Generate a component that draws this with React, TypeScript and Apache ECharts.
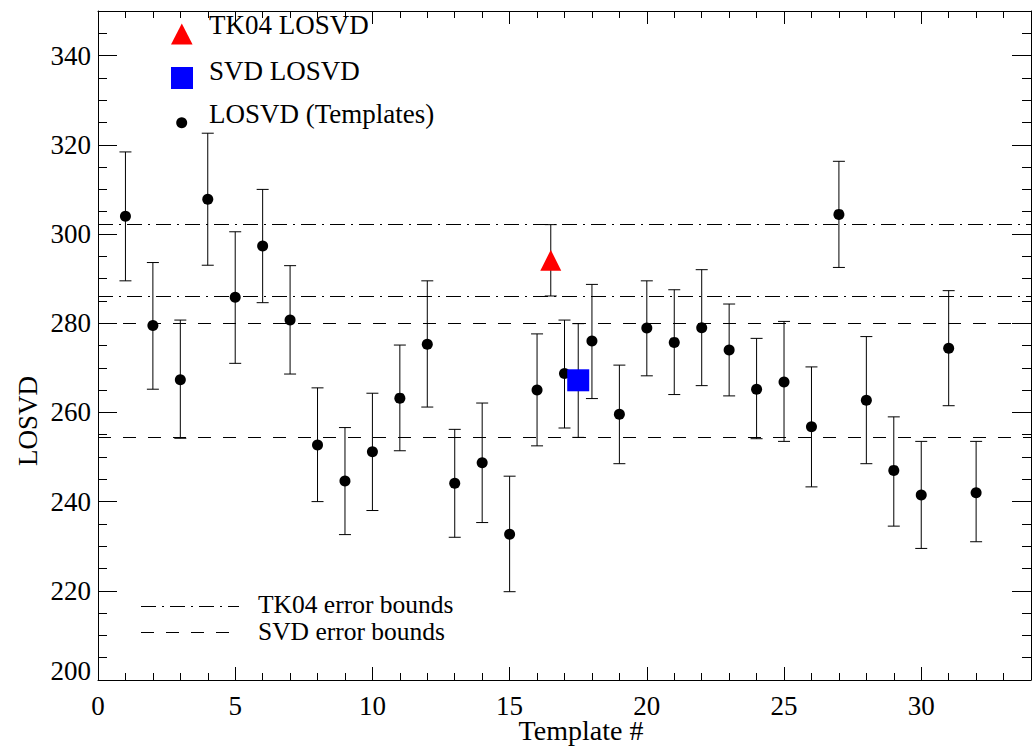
import React, { useEffect, useRef } from "react";
import * as echarts from "echarts";

// Template number for each LOSVD measurement
const templateIds = [
  1, 2, 3, 4, 5, 6, 7, 8, 9, 10, 11, 12, 13, 14, 15, 16,
  17, 18, 19, 20, 21, 22, 23, 24, 25, 26, 27, 28, 29, 30, 31, 32,
];
// LOSVD measured with each template (km/s)
const losvd = [
  304.0, 279.5, 267.3, 307.8, 285.8, 297.3, 280.7, 252.7, 244.6, 251.2, 263.2,
  275.3, 244.1, 248.7, 232.7, 265.0, 268.7, 276.0, 259.6, 278.9, 275.7, 279.0,
  274.0, 265.2, 266.8, 256.8, 304.4, 262.7, 247.0, 241.5, 274.4, 242.0,
];
// Lower and upper ends of the error bars
const losvdLow = [
  289.5, 265.2, 254.2, 293.0, 271.0, 284.6, 268.6, 240.0, 232.6, 238.0, 251.4,
  261.2, 232.0, 235.3, 219.8, 252.5, 256.5, 263.1, 248.5, 268.2, 264.0, 266.0,
  263.7, 254.1, 253.5, 243.3, 292.5, 248.5, 234.5, 229.5, 261.5, 231.0,
];
const losvdHigh = [
  318.4, 293.6, 280.7, 322.6, 300.5, 310.0, 292.9, 265.5, 256.6, 264.3, 275.1,
  289.5, 256.2, 262.1, 245.7, 277.6, 280.7, 288.7, 270.6, 289.5, 287.5, 292.0,
  284.3, 276.6, 280.4, 270.2, 316.3, 277.0, 259.0, 253.5, 287.3, 253.5,
];

// TK04 and SVD estimates: position, value, error range
const tk04X = 16.5;
const tk04Value = 294.1;
const tk04Bounds = [286.1, 302.1];
const svdX = 17.5;
const svdValue = 267.2;
const svdBounds = [254.4, 279.9];

// Axis ticks
const xMajorTicks = [0, 5, 10, 15, 20, 25, 30];
const yMajorTicks = [200, 220, 240, 260, 280, 300, 320, 340];

const FONT = '"Liberation Serif", "Times New Roman", serif';
const FS = 27;
const DASH_DOT = [15, 6, 2, 6];
const DASHED = [13, 12];

function errorBarItem(params: any, api: any) {
  const x = api.value(0);
  const lo = api.coord([x, api.value(1)]);
  const hi = api.coord([x, api.value(2)]);
  const cap = 6;
  const style = { stroke: "#000", lineWidth: 1 };
  return {
    type: "group",
    children: [
      { type: "line", shape: { x1: lo[0], y1: lo[1], x2: hi[0], y2: hi[1] }, style },
      { type: "line", shape: { x1: lo[0] - cap, y1: lo[1], x2: lo[0] + cap, y2: lo[1] }, style },
      { type: "line", shape: { x1: hi[0] - cap, y1: hi[1], x2: hi[0] + cap, y2: hi[1] }, style },
    ],
  };
}

function baseAxis(extra: any) {
  return {
    type: "value",
    gridIndex: 0,
    axisLine: { show: true, onZero: false, lineStyle: { color: "#000", width: 1 } },
    axisTick: { show: true, inside: true, lineStyle: { color: "#000", width: 1 } },
    axisLabel: { show: false },
    splitLine: { show: false },
    ...extra,
  };
}

function label(text: string, x: number, y: number, extra: any = {}) {
  return {
    type: "text",
    x,
    y,
    silent: true,
    style: {
      text,
      fill: "#000",
      fontSize: FS,
      fontFamily: FONT,
      textAlign: "left",
      textVerticalAlign: "middle",
      ...extra,
    },
  };
}

export default function App() {
  const ref = useRef<HTMLDivElement>(null);

  useEffect(() => {
    if (!ref.current) return;
    const chart = echarts.init(ref.current, null, { renderer: "svg" });

    const xLabel = {
      show: true,
      fontSize: FS,
      fontFamily: FONT,
      color: "#000",
      margin: 12,
      formatter: (v: number) => (xMajorTicks.includes(v) ? String(v) : ""),
    };
    const yLabel = {
      show: true,
      fontSize: FS,
      fontFamily: FONT,
      color: "#000",
      margin: 7,
      formatter: (v: number) => {
        if (!yMajorTicks.includes(v)) return "";
        return v === yMajorTicks[0] ? "{lift|" + v + "}" : String(v);
      },
      rich: {
        lift: { fontSize: FS, fontFamily: FONT, color: "#000", padding: [0, 0, 18, 0] },
      },
    };

    const templateRows = templateIds.map((t, i) => [t, losvdLow[i], losvdHigh[i]]);

    const option: any = {
      animation: false,
      textStyle: { fontFamily: FONT },
      grid: { left: 98, top: 11, width: 941, height: 669, containLabel: false },
      xAxis: [
        baseAxis({ position: "bottom", min: 0, max: 34, interval: 5, axisTick: { show: true, inside: true, length: 13, lineStyle: { color: "#000" } }, axisLabel: xLabel }),
        baseAxis({ position: "bottom", min: 0, max: 34, interval: 1, axisLine: { show: false, onZero: false }, axisTick: { show: true, inside: true, length: 7, lineStyle: { color: "#000" } } }),
        baseAxis({ position: "top", min: 0, max: 34, interval: 5, axisTick: { show: true, inside: true, length: 13, lineStyle: { color: "#000" } } }),
        baseAxis({ position: "top", min: 0, max: 34, interval: 1, axisLine: { show: false, onZero: false }, axisTick: { show: true, inside: true, length: 7, lineStyle: { color: "#000" } } }),
      ],
      yAxis: [
        baseAxis({ position: "left", min: 200, max: 350, interval: 20, axisTick: { show: true, inside: true, length: 19, lineStyle: { color: "#000" } }, axisLabel: yLabel }),
        baseAxis({ position: "left", min: 200, max: 350, interval: 5, axisLine: { show: false, onZero: false }, axisTick: { show: true, inside: true, length: 9, lineStyle: { color: "#000" } } }),
        baseAxis({ position: "right", min: 200, max: 350, interval: 20, axisTick: { show: true, inside: true, length: 19, lineStyle: { color: "#000" } } }),
        baseAxis({ position: "right", min: 200, max: 350, interval: 5, axisLine: { show: false, onZero: false }, axisTick: { show: true, inside: true, length: 9, lineStyle: { color: "#000" } } }),
      ],
      series: [
        {
          type: "custom",
          name: "template errors",
          xAxisIndex: 0,
          yAxisIndex: 0,
          renderItem: errorBarItem,
          encode: { x: 0, y: [1, 2] },
          data: templateRows,
          silent: true,
          markLine: {
            silent: true,
            symbol: "none",
            label: { show: false },
            lineStyle: { color: "#000", width: 1 },
            data: [
              { yAxis: tk04Bounds[0], lineStyle: { type: DASH_DOT, color: "#000", width: 1 } },
              { yAxis: tk04Bounds[1], lineStyle: { type: DASH_DOT, color: "#000", width: 1 } },
              { yAxis: svdBounds[0], lineStyle: { type: DASHED, color: "#000", width: 1 } },
              { yAxis: svdBounds[1], lineStyle: { type: DASHED, color: "#000", width: 1 } },
            ],
          },
        },
        {
          type: "custom",
          name: "estimate errors",
          xAxisIndex: 0,
          yAxisIndex: 0,
          renderItem: errorBarItem,
          encode: { x: 0, y: [1, 2] },
          data: [
            [tk04X, tk04Bounds[0], tk04Bounds[1]],
            [svdX, svdBounds[0], svdBounds[1]],
          ],
          silent: true,
        },
        {
          type: "scatter",
          name: "LOSVD (Templates)",
          symbol: "circle",
          symbolSize: 11,
          itemStyle: { color: "#000", opacity: 1 },
          data: templateIds.map((t, i) => [t, losvd[i]]),
          silent: true,
        },
        {
          type: "scatter",
          name: "TK04 LOSVD",
          symbol: "triangle",
          symbolSize: [21, 21],
          itemStyle: { color: "#ff0000", opacity: 1 },
          data: [[tk04X, tk04Value]],
          silent: true,
        },
        {
          type: "scatter",
          name: "SVD LOSVD",
          symbol: "rect",
          symbolSize: 22,
          itemStyle: { color: "#0000ff", opacity: 1 },
          data: [[svdX, svdValue]],
          silent: true,
        },
      ],
      graphic: [
        // key for the markers
        { type: "polygon", shape: { points: [[181.8, 23.5], [171, 44.5], [192.6, 44.5]] }, style: { fill: "#ff0000" }, silent: true },
        label("TK04 LOSVD", 209, 25),
        { type: "rect", shape: { x: 171, y: 67, width: 22, height: 22 }, style: { fill: "#0000ff" }, silent: true },
        label("SVD LOSVD", 209, 71),
        { type: "circle", shape: { cx: 181.7, cy: 122.7, r: 5.5 }, style: { fill: "#000" }, silent: true },
        label("LOSVD (Templates)", 209, 114),
        // key for the bound lines
        { type: "line", shape: { x1: 141, y1: 606.5, x2: 239, y2: 606.5 }, style: { stroke: "#000", lineWidth: 1, lineDash: DASH_DOT }, silent: true },
        label("TK04 error bounds", 258, 604.5, { fontSize: 25.5, lineHeight: 22 }),
        { type: "line", shape: { x1: 141, y1: 632.5, x2: 231, y2: 632.5 }, style: { stroke: "#000", lineWidth: 1, lineDash: DASHED }, silent: true },
        label("SVD error bounds", 258, 631.5, { fontSize: 25.5, lineHeight: 22 }),
        // axis titles
        label("Template #", 581, 730, { textAlign: "center", fontSize: 28 }),
        { ...label("LOSVD", 28, 421, { textAlign: "center" }), rotation: Math.PI / 2 },
      ],
    };

    chart.setOption(option);
    return () => chart.dispose();
  }, []);

  return (
    <div
      ref={ref}
      style={{ position: "fixed", left: 0, top: 0, width: 1034, height: 747, background: "#fff" }}
    />
  );
}
